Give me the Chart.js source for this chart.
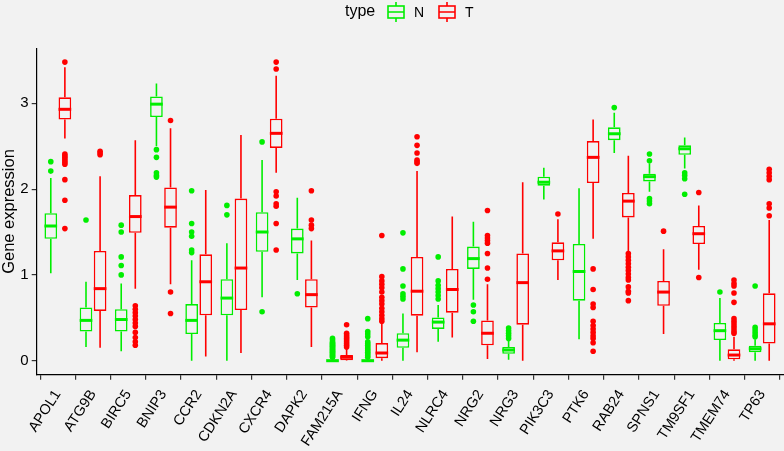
<!DOCTYPE html>
<html>
<head>
<meta charset="utf-8">
<script src="https://cdn.jsdelivr.net/npm/chart.js@4/dist/chart.umd.min.js"></script>
<style>
  html, body { margin: 0; padding: 0; background: #f2f2f2; }
  #wrap { width: 784px; height: 451px; }
</style>
</head>
<body>
<div id="wrap"><canvas id="chart" width="784" height="451"></canvas></div>
<script>
// Genes on the x axis
const genes = ['APOL1','ATG9B','BIRC5','BNIP3','CCR2','CDKN2A','CXCR4','DAPK2','FAM215A','IFNG','IL24',
               'NLRC4','NRG2','NRG3','PIK3C3','PTK6','RAB24','SPNS1','TM9SF1','TMEM74','TP63'];
const yTicks = [0, 1, 2, 3];

// type N (normal) - box stats
const nLo  = [1.02, 0.16, 0.11, 2.50, 0.00, 0.00, 0.74, 0.94, 0.00, 0.00, 0.00, 0.22, 0.71, 0.01, 1.88, 0.25, 2.42, 1.97, 2.24, 0.00, 0.00];
const nQ1  = [1.42, 0.34, 0.34, 2.84, 0.31, 0.53, 1.27, 1.25, 0.00, 0.00, 0.15, 0.37, 1.07, 0.08, 2.04, 0.70, 2.57, 2.09, 2.40, 0.24, 0.10];
const nMed = [1.57, 0.47, 0.48, 2.99, 0.47, 0.73, 1.50, 1.42, 0.00, 0.00, 0.24, 0.45, 1.19, 0.125, 2.08, 1.04, 2.645, 2.145, 2.47, 0.35, 0.14];
const nQ3  = [1.72, 0.62, 0.60, 3.08, 0.66, 0.95, 1.73, 1.54, 0.015, 0.015, 0.32, 0.505, 1.33, 0.16, 2.145, 1.36, 2.72, 2.18, 2.51, 0.44, 0.175];
const nHi  = [2.13, 0.92, 0.90, 3.23, 1.17, 1.37, 2.34, 1.90, 0.035, 0.035, 0.55, 0.65, 1.62, 0.23, 2.25, 2.01, 2.89, 2.30, 2.60, 0.73, 0.25];
const nOut = [
  [2.32, 2.21],
  [1.64],
  [1.58, 1.50, 1.21, 1.11, 1.00],
  [2.46, 2.37, 2.19, 2.16, 2.14],
  [1.98, 1.60, 1.50, 1.45, 1.29, 1.26],
  [1.81, 1.70],
  [2.55, 0.57],
  [0.78],
  [0.26, 0.24, 0.22, 0.21, 0.20, 0.19, 0.18, 0.17, 0.16, 0.15, 0.14, 0.13, 0.12, 0.11, 0.10, 0.09, 0.08, 0.07, 0.06, 0.05, 0.04],
  [0.49, 0.34, 0.31, 0.28, 0.22, 0.20, 0.18, 0.16, 0.14, 0.12, 0.10, 0.08, 0.06, 0.04],
  [1.49, 1.07, 0.87, 0.78, 0.75, 0.72],
  [1.21, 0.93, 0.88, 0.84, 0.80, 0.76, 0.72],
  [0.65, 0.57, 0.46],
  [0.38, 0.35, 0.32, 0.29, 0.26],
  [],
  [],
  [2.95],
  [2.41, 2.33, 1.89, 1.86, 1.83],
  [2.19, 2.16, 2.12, 1.94],
  [0.80],
  [0.87, 0.39, 0.36, 0.33, 0.30, 0.28]
];

// type T (tumour) - box stats
const tLo  = [2.59, 0.15, 0.84, 0.89, 0.05, 0.09, 2.19, 0.16, 0.00, 0.00, 0.10, 0.27, 0.02, 0.00, 0.94, 1.42, 1.27, 0.31, 1.06, 0.00, 0.00];
const tQ1  = [2.81, 0.58, 1.49, 1.55, 0.53, 0.59, 2.48, 0.62, 0.005, 0.03, 0.525, 0.56, 0.18, 0.42, 1.17, 2.07, 1.67, 0.64, 1.36, 0.016, 0.20];
const tMed = [2.93, 0.84, 1.68, 1.79, 0.92, 1.08, 2.65, 0.77, 0.04, 0.09, 0.81, 0.83, 0.32, 0.91, 1.28, 2.37, 1.86, 0.80, 1.48, 0.066, 0.43];
const tQ3  = [3.07, 1.28, 1.93, 2.02, 1.24, 1.89, 2.82, 0.95, 0.066, 0.205, 1.21, 1.07, 0.47, 1.25, 1.38, 2.56, 1.955, 0.93, 1.57, 0.133, 0.785];
const tHi  = [3.42, 2.15, 2.57, 2.71, 1.99, 2.63, 3.32, 1.40, 0.14, 0.44, 2.21, 1.68, 0.89, 2.08, 1.65, 2.81, 2.39, 1.30, 1.81, 0.28, 1.64];
const tOut = [
  [3.48, 2.41, 2.39, 2.37, 2.35, 2.33, 2.31, 2.29, 2.11, 1.87, 1.54],
  [2.44, 2.42, 2.40],
  [0.64, 0.60, 0.56, 0.52, 0.48, 0.44, 0.40, 0.33, 0.27, 0.22, 0.18],
  [2.80, 0.80, 0.55],
  [],
  [],
  [3.48, 3.40, 1.97, 1.92, 1.83, 1.80, 1.60, 1.29],
  [1.98, 1.64, 1.58, 1.54],
  [0.42, 0.32, 0.30, 0.28, 0.26, 0.24, 0.22, 0.20, 0.18, 0.16],
  [1.46, 0.98, 0.93, 0.89, 0.85, 0.80, 0.74, 0.70, 0.66, 0.61, 0.57, 0.53, 0.49, 0.46],
  [2.61, 2.51, 2.42, 2.34, 2.32, 2.30],
  [],
  [1.75, 1.46, 1.43, 1.40, 1.37, 1.25, 1.08, 0.95],
  [],
  [1.71],
  [1.07, 0.83, 0.66, 0.62, 0.46, 0.41, 0.37, 0.33, 0.29, 0.26, 0.21, 0.11],
  [1.25, 1.21, 1.17, 1.13, 1.09, 1.05, 1.01, 0.97, 0.94, 0.86, 0.81, 0.79, 0.70],
  [1.51],
  [1.96, 0.97],
  [0.94, 0.90, 0.87, 0.79, 0.68, 0.49, 0.46, 0.43, 0.40, 0.37, 0.34, 0.32],
  [2.23, 2.19, 2.15, 2.11, 1.83, 1.78, 1.69]
];

const GREEN = '#00ee00';
const RED = '#ff0000';
const BG = '#f2f2f2';
const FONT = '"Liberation Sans", Arial, sans-serif';

const groups = [
  { name: 'N', color: GREEN, lo: nLo, q1: nQ1, med: nMed, q3: nQ3, hi: nHi, out: nOut },
  { name: 'T', color: RED,   lo: tLo, q1: tQ1, med: tMed, q3: tQ3, hi: tHi, out: tOut }
];

// whiskers, medians and outliers drawn on top of the floating bars
const boxExtras = {
  id: 'boxExtras',
  afterDatasetsDraw(chart) {
    const ctx = chart.ctx;
    const ys = chart.scales.y;
    groups.forEach((g, d) => {
      const meta = chart.getDatasetMeta(d);
      ctx.save();
      ctx.strokeStyle = g.color;
      ctx.fillStyle = g.color;
      meta.data.forEach((bar, i) => {
        const x = bar.x, half = bar.width / 2;
        ctx.lineWidth = 1.6;
        ctx.beginPath();
        ctx.moveTo(x, ys.getPixelForValue(g.q3[i]));
        ctx.lineTo(x, ys.getPixelForValue(g.hi[i]));
        ctx.moveTo(x, ys.getPixelForValue(g.q1[i]));
        ctx.lineTo(x, ys.getPixelForValue(g.lo[i]));
        ctx.stroke();
        ctx.lineWidth = 3;
        ctx.beginPath();
        const ym = ys.getPixelForValue(g.med[i]);
        ctx.moveTo(x - half, ym);
        ctx.lineTo(x + half, ym);
        ctx.stroke();
        g.out[i].forEach(v => {
          ctx.beginPath();
          ctx.arc(x, ys.getPixelForValue(v), 2.8, 0, Math.PI * 2);
          ctx.fill();
        });
      });
      ctx.restore();
    });
  }
};

// ggplot-like legend at the top
const topLegend = {
  id: 'topLegend',
  afterDraw(chart) {
    const ctx = chart.ctx;
    const cy = 12;
    ctx.save();
    ctx.fillStyle = '#000';
    ctx.textBaseline = 'middle';
    ctx.textAlign = 'left';
    ctx.font = '16px ' + FONT;
    ctx.fillText('type', 345, cy);
    const keys = [{ g: groups[0], x: 396 }, { g: groups[1], x: 447 }];
    keys.forEach(k => {
      ctx.strokeStyle = k.g.color;
      ctx.lineWidth = 1.6;
      ctx.strokeRect(k.x - 8, cy - 6, 16, 12);
      ctx.beginPath();
      ctx.moveTo(k.x, cy - 10); ctx.lineTo(k.x, cy - 6);
      ctx.moveTo(k.x, cy + 6); ctx.lineTo(k.x, cy + 10);
      ctx.moveTo(k.x - 8, cy); ctx.lineTo(k.x + 8, cy);
      ctx.stroke();
      ctx.fillStyle = '#000';
      ctx.font = '14px ' + FONT;
      ctx.fillText(k.g.name, k.x + 18, cy + 1);
    });
    ctx.restore();
  }
};

const barSet = g => ({
  type: 'bar',
  label: g.name,
  data: genes.map((_, i) => ({ x: i + 1, y: [g.q1[i], g.q3[i]] })),
  borderColor: g.color,
  backgroundColor: BG,
  borderWidth: 1.6,
  borderSkipped: false,
  categoryPercentage: 0.8,
  barPercentage: 0.9
});

new Chart(document.getElementById('chart'), {
  type: 'bar',
  data: { datasets: groups.map(barSet) },
  options: {
    responsive: false,
    animation: false,
    devicePixelRatio: 1,
    layout: { padding: { top: 48.3, right: 0.7, left: 0, bottom: 0 } },
    plugins: { legend: { display: false }, tooltip: { enabled: false } },
    scales: {
      x: {
        type: 'linear',
        offset: false,
        min: 0.4,
        max: 21.6,
        afterBuildTicks: s => { s.ticks = genes.map((_, i) => ({ value: i + 1 })); },
        afterFit: s => { s.height = 76.3; },
        grid: { display: true, drawOnChartArea: false, drawTicks: true, tickLength: 5, color: '#333', lineWidth: 1.2 },
        border: { display: true, color: '#000', width: 1.2 },
        ticks: {
          autoSkip: false,
          minRotation: 57,
          maxRotation: 57,
          padding: 7,
          color: '#000',
          font: { family: FONT, size: 14.5 },
          callback: v => genes[v - 1]
        }
      },
      y: {
        min: -0.163,
        max: 3.641,
        afterBuildTicks: s => { s.ticks = yTicks.map(v => ({ value: v })); },
        afterFit: s => { s.width = 36.7; },
        grid: { display: true, drawOnChartArea: false, drawTicks: true, tickLength: 5, color: '#333', lineWidth: 1.2 },
        border: { display: true, color: '#000', width: 1.2 },
        ticks: { padding: 3, color: '#000', font: { family: FONT, size: 15 } },
        title: { display: true, text: 'Gene expression', color: '#000', font: { family: FONT, size: 16.5 }, padding: { top: 0, bottom: 0 } }
      }
    }
  },
  plugins: [boxExtras, topLegend]
});
</script>
</body>
</html>
